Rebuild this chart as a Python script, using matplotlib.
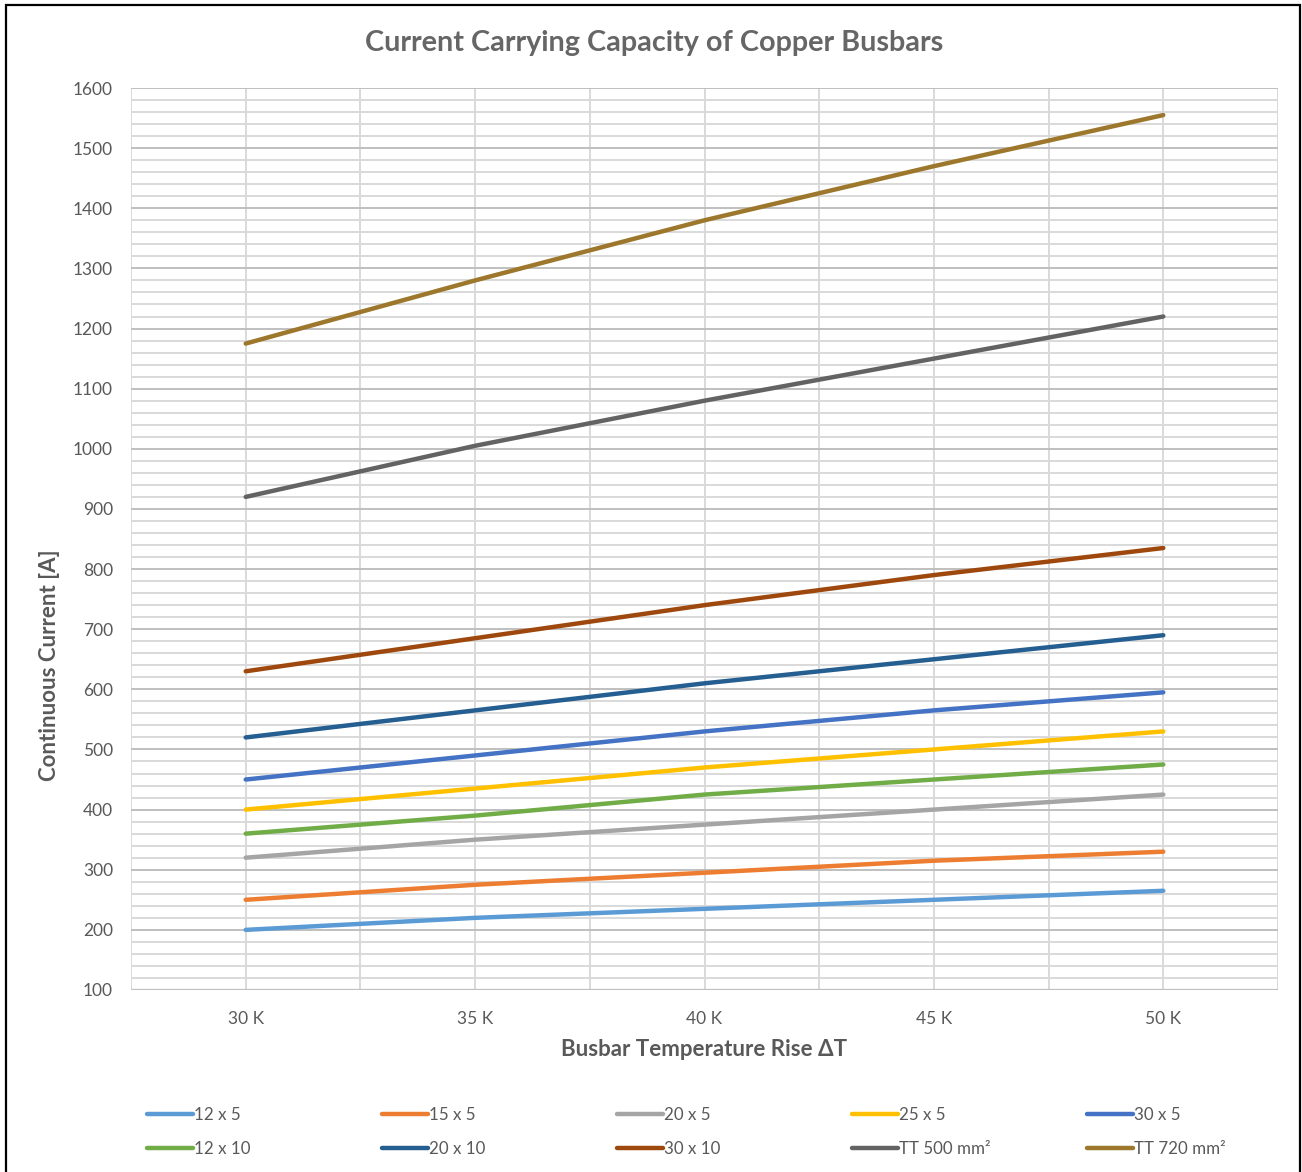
import numpy as np
import matplotlib
matplotlib.use("Agg")
import matplotlib.pyplot as plt
from matplotlib.patches import Rectangle
from matplotlib.ticker import MultipleLocator

# temperature rise categories (K)
delta_t = [30, 35, 40, 45, 50]
tick_labels = ["30 K", "35 K", "40 K", "45 K", "50 K"]

# continuous current [A] per busbar size
i_12x5 = [200, 220, 235, 250, 265]
i_15x5 = [250, 275, 295, 315, 330]
i_20x5 = [320, 350, 375, 400, 425]
i_25x5 = [400, 435, 470, 500, 530]
i_30x5 = [450, 490, 530, 565, 595]
i_12x10 = [360, 390, 425, 450, 475]
i_20x10 = [520, 565, 610, 650, 690]
i_30x10 = [630, 685, 740, 790, 835]
i_tt500 = [920, 1005, 1080, 1150, 1220]
i_tt720 = [1175, 1280, 1380, 1470, 1555]

series = [
    ("12 x 5", i_12x5, "#5B9BD5"),
    ("15 x 5", i_15x5, "#ED7D31"),
    ("20 x 5", i_20x5, "#A5A5A5"),
    ("25 x 5", i_25x5, "#FFC000"),
    ("30 x 5", i_30x5, "#4472C4"),
    ("12 x 10", i_12x10, "#70AD47"),
    ("20 x 10", i_20x10, "#255E91"),
    ("30 x 10", i_30x10, "#9E480E"),
    ("TT 500 mm\u00b2", i_tt500, "#636363"),
    ("TT 720 mm\u00b2", i_tt720, "#9C772C"),
]

TXT = "#595959"
plt.rcParams["font.family"] = ["Lato", "DejaVu Sans"]

W, H = 1302, 1172
fig = plt.figure(figsize=(W / 100, H / 100), dpi=100)
ax = fig.add_axes([131 / W, 1 - 990 / H, (1278 - 131) / W, (990 - 88) / H])

handles = []
for name, vals, col in series:
    ln, = ax.plot(delta_t, vals, color=col, lw=3.2, solid_capstyle="round",
                  label=name, zorder=3)
    handles.append(ln)

ax.set_xlim(27.5, 52.5)
ax.set_ylim(100, 1600)
ax.set_xticks(delta_t)
ax.set_xticklabels(tick_labels)
ax.xaxis.set_minor_locator(MultipleLocator(2.5))
ax.yaxis.set_major_locator(MultipleLocator(100))
ax.yaxis.set_minor_locator(MultipleLocator(20))

ax.grid(which="major", axis="y", color="#BFBFBF", lw=1.4, zorder=1)
ax.grid(which="minor", axis="y", color="#D9D9D9", lw=1.4, zorder=0)
ax.grid(which="both", axis="x", color="#D9D9D9", lw=1.4, zorder=0)
ax.set_axisbelow(True)
for s in ax.spines.values():
    s.set_visible(False)
ax.axhline(100, color="#BFBFBF", lw=1.6, zorder=1)

ax.tick_params(which="both", length=0, colors=TXT, labelsize=12.5)
ax.tick_params(axis="y", pad=13)
ax.tick_params(axis="x", pad=15)

# axis titles placed in figure pixels
fig.text(704 / W, 1 - 1050 / H, "Busbar Temperature Rise \u0394T", color=TXT,
         fontsize=16, fontweight="bold", ha="center", va="center")
fig.text(50 / W, 1 - 665 / H, "Continuous Current [A]", color=TXT,
         fontsize=16, fontweight="bold", ha="center", va="center",
         rotation=90)

fig.text(654 / W, 1 - 43 / H, "Current Carrying Capacity of Copper Busbars",
         ha="center", va="center", color="#666666", fontsize=20.7,
         fontweight="bold")

# legend: five columns of two entries
col_x = [147, 382, 617, 852, 1087]
for k, x in enumerate(col_x):
    hs = [handles[k], handles[k + 5]]
    fig.legend(handles=hs, labels=[h.get_label() for h in hs],
               loc="upper left", bbox_to_anchor=(x / W, 1 - 1107 / H),
               frameon=False, borderpad=0, borderaxespad=0,
               handlelength=2.7, handletextpad=0.1, labelspacing=1.05,
               fontsize=12.2, labelcolor=TXT)

# outer frame
fig.patches.append(Rectangle((6 / W, -0.02), (1300 - 6) / W, 1 - 5 / H + 0.02,
                             transform=fig.transFigure, fill=False,
                             edgecolor="black", lw=1.6))

fig.savefig("out.png", dpi=100)
